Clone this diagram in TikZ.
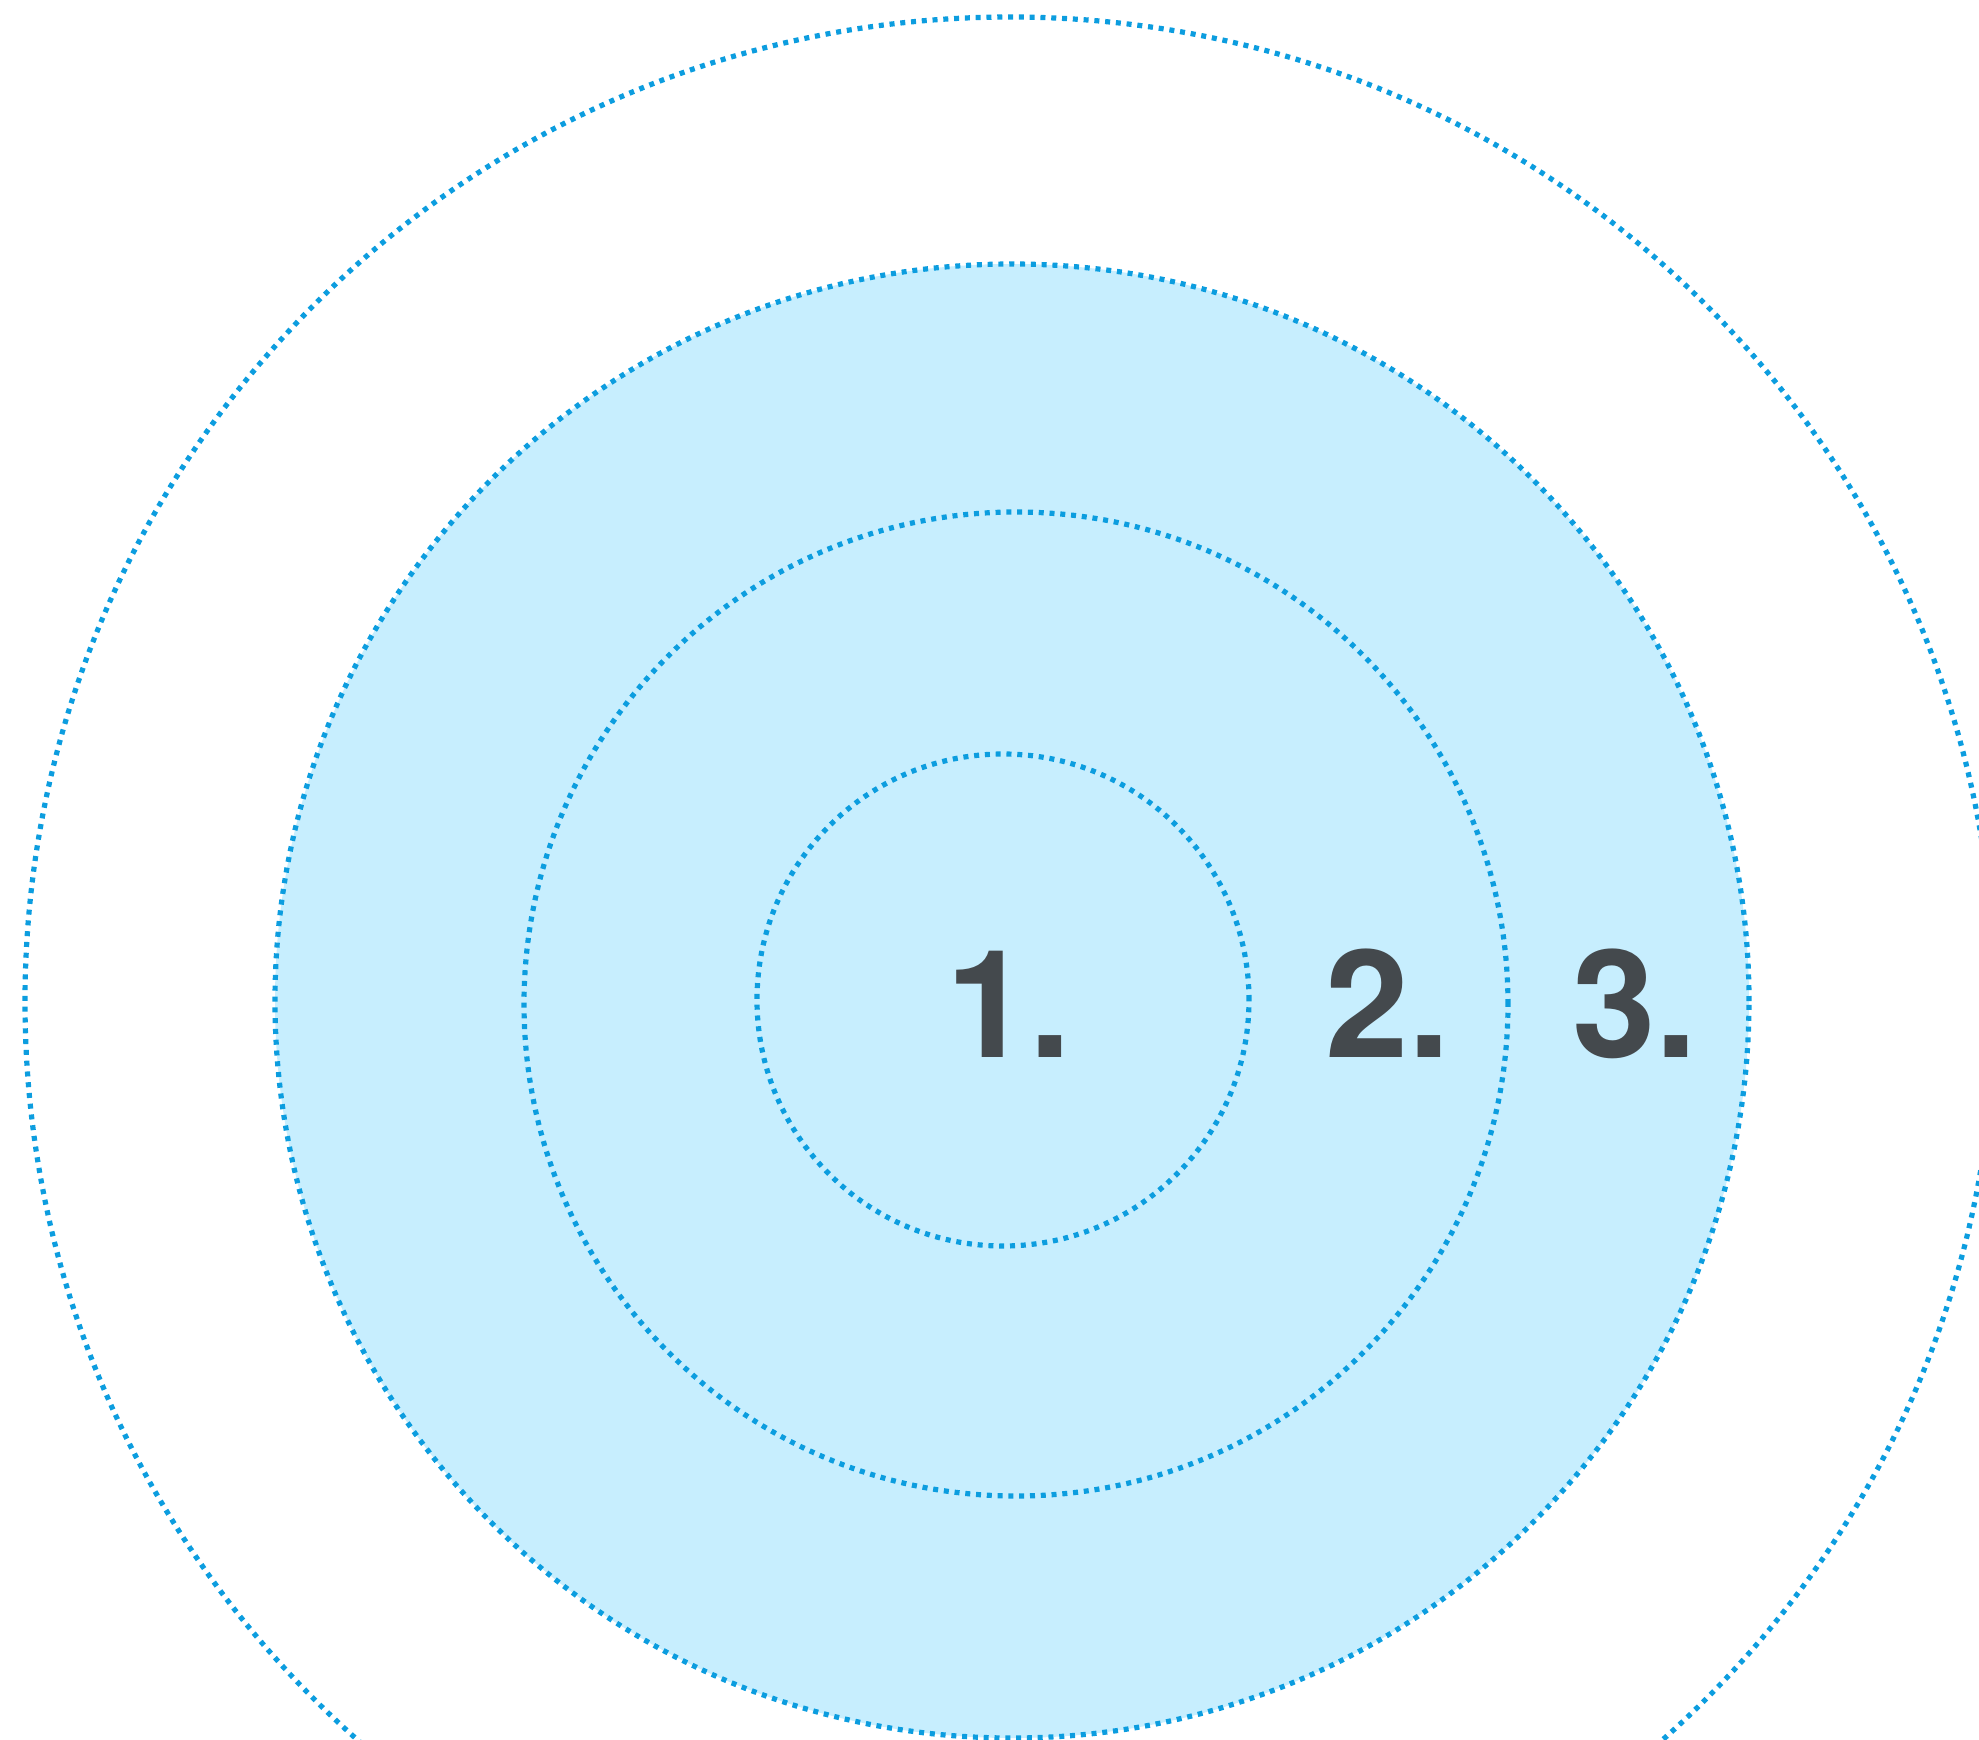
\documentclass[tikz,border=0pt]{standalone}
\usepackage{fontspec}
\setmainfont{TeX Gyre Heros}
\definecolor{ringblue}{HTML}{0C9DDF}
\definecolor{zonefill}{HTML}{C7EEFE}
\definecolor{numgray}{HTML}{44494D}
\begin{document}
\begin{tikzpicture}[x=1pt,y=-1pt,
  ring/.style={draw=ringblue, line width=5.2pt, dash pattern=on 5pt off 5.8pt},
  numlabel/.style={text=numgray, font=\fontsize{150}{150}\selectfont\bfseries, inner sep=0pt, anchor=base west}]
\useasboundingbox (0,0) rectangle (1979,1740);
\begin{scope}
\clip (0,0) rectangle (1979,1740);
\fill[zonefill] (1012,1001) circle[radius=737pt];
\draw[ring] (1010,1002) circle[radius=985pt];
\draw[ring] (1012,1001) circle[radius=737pt];
\draw[ring] (1016,1004) circle[radius=492pt];
\draw[ring] (1003,1000) circle[radius=246pt];
\end{scope}
\node[numlabel] (n1) at (946,1057) {1.};
\node[numlabel] (n2) at (1325,1057) {2.};
\node[numlabel] (n3) at (1572,1057) {3.};
\end{tikzpicture}
\end{document}
